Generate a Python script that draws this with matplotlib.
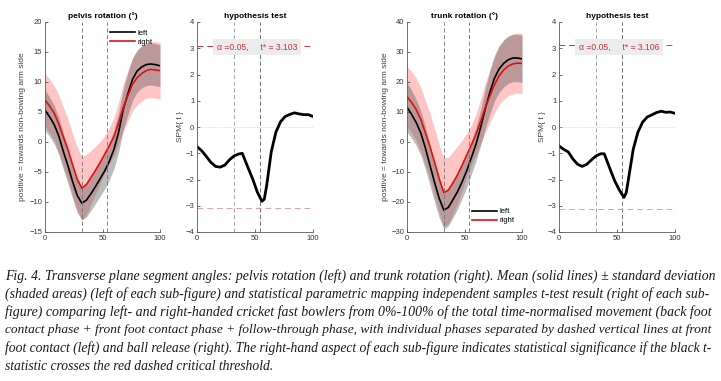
import matplotlib
matplotlib.use('Agg')
import matplotlib.pyplot as plt
import numpy as np

# time-normalised movement (%)
pct = [0, 4, 8, 12, 16, 20, 24, 28, 32, 36, 40, 44, 48, 52, 56, 60, 64, 68, 72, 76, 80, 84, 88, 92, 96, 100]

# pelvis rotation (deg): mean and sd, left and right handed
pelvis_left = [5.3, 4.2, 2.9, 1.0, -1.6, -4.0, -6.6, -8.9, -10.2, -9.7, -8.6, -7.4, -6.1, -4.8, -3.2, -1.2,
               1.6, 5.4, 8.0, 10.4, 11.8, 12.5, 12.9, 13.0, 12.9, 12.7]
pelvis_right = [7.0, 6.0, 4.8, 3.0, 0.8, -1.3, -3.8, -6.2, -7.7, -7.1, -5.9, -4.7, -3.4, -2.0, -0.6, 0.9,
                3.2, 5.7, 7.7, 9.6, 10.7, 11.4, 11.9, 12.1, 12.0, 11.9]
pelvis_left_sd = [3.4, 3.3, 3.2, 3.1, 3.0, 2.9, 2.9, 2.8, 2.8, 2.8, 2.8, 2.8, 2.9, 3.0, 3.1, 3.2,
                  3.3, 3.4, 3.5, 3.5, 3.5, 3.5, 3.5, 3.5, 3.5, 3.5]
pelvis_right_sd = [4.4, 4.5, 4.6, 4.8, 5.0, 5.1, 5.2, 5.3, 5.3, 5.0, 4.5, 4.0, 3.5, 3.1, 3.0, 3.2,
                   3.5, 3.9, 4.2, 4.4, 4.5, 4.6, 4.6, 4.7, 4.7, 4.7]

# trunk rotation (deg)
trunk_left = [11.6, 9.2, 6.5, 3.0, -2.0, -7.8, -13.5, -18.8, -22.7, -21.8, -19.2, -16.5, -13.2, -9.5, -5.2, -0.7,
              4.8, 11.0, 16.5, 21.2, 24.3, 26.2, 27.4, 28.0, 28.0, 27.7]
trunk_right = [15.1, 13.2, 10.8, 7.5, 3.0, -1.6, -6.8, -12.2, -16.9, -16.0, -13.6, -10.9, -7.7, -4.3, -1.0, 2.6,
               6.8, 11.4, 15.3, 19.0, 22.0, 24.0, 25.3, 26.0, 26.3, 26.2]
trunk_left_sd = [8.2, 8.0, 7.7, 7.4, 7.1, 6.8, 6.6, 6.4, 6.3, 6.2, 6.0, 5.8, 5.6, 5.5, 5.5, 5.6,
                 6.0, 6.6, 7.2, 7.6, 7.8, 7.9, 7.9, 7.9, 7.9, 7.9]
trunk_right_sd = [10.0, 10.2, 10.4, 10.6, 10.8, 11.0, 11.2, 11.4, 11.5, 11.0, 10.4, 9.6, 8.4, 7.2, 6.6, 6.8,
                  7.5, 8.2, 8.8, 9.3, 9.6, 9.8, 9.9, 10.0, 10.0, 10.0]

# SPM{t}
spm_x = [0, 4, 8, 12, 16, 20, 24, 28, 32, 36, 39, 44, 48, 52, 56, 58, 60, 64, 68, 72, 76, 80, 84, 88, 92, 96, 100]
pelvis_t = [-0.75, -0.9, -1.12, -1.35, -1.5, -1.53, -1.45, -1.25, -1.1, -1.03, -1.0, -1.55, -1.98, -2.48, -2.83,
            -2.75, -2.25, -0.95, -0.2, 0.2, 0.4, 0.48, 0.54, 0.5, 0.47, 0.47, 0.4]
trunk_t = [-0.72, -0.85, -0.95, -1.22, -1.42, -1.5, -1.42, -1.25, -1.1, -1.02, -1.02, -1.6, -2.05, -2.4, -2.68,
           -2.5, -1.95, -0.85, -0.2, 0.18, 0.38, 0.46, 0.55, 0.6, 0.56, 0.57, 0.52]
pelvis_tcrit = 3.103
trunk_tcrit = 3.106

events = [32, 54]   # front foot contact, ball release

caption = [
    "Fig. 4. Transverse plane segment angles: pelvis rotation (left) and trunk rotation (right). Mean (solid lines) \u00b1 standard deviation",
    "(shaded areas) (left of each sub-figure) and statistical parametric mapping independent samples t-test result (right of each sub-",
    "figure) comparing left- and right-handed cricket fast bowlers from 0%-100% of the total time-normalised movement (back foot",
    "contact phase + front foot contact phase + follow-through phase, with individual phases separated by dashed vertical lines at front",
    "foot contact (left) and ball release (right). The right-hand aspect of each sub-figure indicates statistical significance if the black t-",
    "statistic crosses the red dashed critical threshold.",
]

plt.rcParams['font.family'] = ['Liberation Sans', 'DejaVu Sans']

fig = plt.figure(figsize=(7.21, 3.81), dpi=100)
W, H = 721., 381.


def ax_at(x0, x1, y0=22, y1=232):
    return fig.add_axes([x0 / W, 1 - y1 / H, (x1 - x0) / W, (y1 - y0) / H])


def style(ax):
    for s in ['top', 'right']:
        ax.spines[s].set_visible(False)
    for s in ['left', 'bottom']:
        ax.spines[s].set_color('0.35')
        ax.spines[s].set_linewidth(0.6)
    ax.tick_params(direction='in', length=2, width=0.5, labelsize=5.5, colors='0.2', pad=2)


def angle_panel(ax, title, left, lsd, right, rsd, ylim, yticks, legloc):
    x = np.array(pct)
    l, ls = np.array(left), np.array(lsd)
    r, rs = np.array(right), np.array(rsd)
    ax.fill_between(x, r - rs, r + rs, color='#ff3030', alpha=0.28, lw=0)
    ax.fill_between(x, l - ls, l + ls, color='0.35', alpha=0.4, lw=0)
    ax.plot(x, l, color='k', lw=1.2, label='left')
    ax.plot(x, r, color='#e01010', lw=1.2, label='right')
    for e in events:
        ax.axvline(e, color='0.45', lw=0.6, ls=(0, (5, 3)))
    ax.set_xlim(0, 100)
    ax.set_ylim(*ylim)
    ax.set_yticks(yticks)
    ax.set_xticks([0, 50, 100])
    ax.set_title(title, fontsize=6, fontweight='bold', pad=3)
    ax.set_ylabel('positive = towards non-bowing arm side', fontsize=6, color='0.25', labelpad=2)
    style(ax)
    ax.legend(loc=legloc, frameon=False, fontsize=5.5, handlelength=3.2, handletextpad=0.3,
              labelspacing=0.2, borderaxespad=0.6)


def spm_panel(ax, t, tcrit):
    ax.axhline(0, color='0.8', lw=0.6, ls=':')
    ax.axvline(events[0], color='0.6', lw=0.6, ls=(0, (5, 3)))
    ax.axvline(events[1], color='0.35', lw=0.6, ls=(0, (5, 3)))
    ax.axhline(tcrit, color='#c8323c', lw=0.7, ls=(0, (6, 4)))
    ax.axhline(-tcrit, color='#e3a0a8', lw=0.7, ls=(0, (6, 4)))
    ax.plot(spm_x, t, color='k', lw=2.0)
    ax.text(17, tcrit - 0.07, '\u03b1 =0.05,     t* = %.3f' % tcrit, fontsize=6.2, color='#c8323c',
            va='center', ha='left',
            bbox=dict(boxstyle='square,pad=0.4', fc='#ececec', ec='none'))
    ax.set_xlim(0, 100)
    ax.set_ylim(-4, 4)
    ax.set_yticks(range(-4, 5))
    ax.set_xticks([0, 50, 100])
    ax.set_title('hypothesis test', fontsize=6, fontweight='bold', pad=3)
    ax.set_ylabel('SPM{ t }', fontsize=6, color='0.25', labelpad=1)
    style(ax)


ax1 = ax_at(45, 160)
angle_panel(ax1, 'pelvis rotation (\u00b0)', pelvis_left, pelvis_left_sd, pelvis_right, pelvis_right_sd,
            (-15, 20), range(-15, 21, 5), 'upper right')
ax2 = ax_at(197, 313)
spm_panel(ax2, pelvis_t, pelvis_tcrit)
ax3 = ax_at(407, 522)
angle_panel(ax3, 'trunk rotation (\u00b0)', trunk_left, trunk_left_sd, trunk_right, trunk_right_sd,
            (-30, 40), range(-30, 41, 10), 'lower right')
ax4 = ax_at(559, 675)
spm_panel(ax4, trunk_t, trunk_tcrit)

# caption, each full line stretched to the column width
ys = [276, 294, 312, 330, 348, 366]
fig.canvas.draw()
rend = fig.canvas.get_renderer()
sizes = []
texts = []
for i, (line, y) in enumerate(zip(caption, ys)):
    t = fig.text(5 / W, 1 - y / H, line, fontsize=9, family='Liberation Serif', style='italic',
                 va='center', ha='left', color='0.1')
    texts.append(t)
    if i < len(caption) - 1:
        w = t.get_window_extent(rend).width
        s = 9 * 704 / w
        t.set_fontsize(s)
        sizes.append(s)
texts[-1].set_fontsize(np.mean(sizes))

fig.savefig('out.png', dpi=100)
